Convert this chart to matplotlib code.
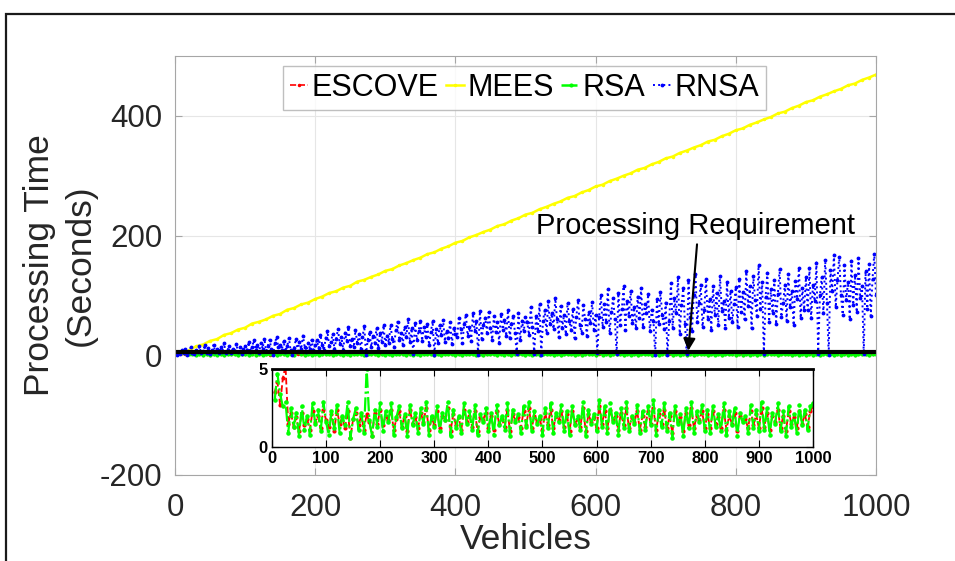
import numpy as np
import matplotlib
matplotlib.use('Agg')
import matplotlib.pyplot as plt
from matplotlib.patches import Rectangle

plt.rcParams['font.family'] = ['Liberation Sans', 'DejaVu Sans']
plt.rcParams['axes.unicode_minus'] = False

# vehicle counts: MEES every 10, RNSA every 2.5, ESCOVE/RSA every 5
veh_mees = np.arange(0, 1001, 10)
veh_rnsa = np.arange(1, 401) * 2.5
veh = np.arange(5, 1001, 5)

mees = [1, 4, 8, 15, 18, 24, 27, 34, 37, 43, 46, 53, 56, 60, 66, 69, 76, 79, 85, 88,
        94, 98, 104, 107, 113, 116, 123, 126, 131, 135, 141, 144, 150, 154, 159, 163, 169, 172, 178, 182,
        188, 191, 197, 201, 206, 210, 216, 219, 225, 229, 235, 238, 244, 248, 253, 257, 263, 266, 272, 276,
        282, 285, 291, 295, 300, 304, 310, 313, 319, 323, 329, 332, 338, 342, 347, 351, 357, 360, 366, 370,
        376, 379, 385, 389, 394, 398, 404, 407, 413, 417, 423, 426, 432, 436, 441, 445, 451, 454, 460, 464,
        469]

rnsa = [1, 5, 2, 8, 3, 11, 1, 6, 13, 4, 2, 9, 5, 15, 3, 7, 17, 4, 12, 2,
        8, 18, 5, 10, 3, 14, 6, 20, 4, 9, 16, 3, 11, 7, 19, 5, 13, 2, 10, 15,
        8, 22, 6, 14, 25, 9, 17, 4, 21, 11, 28, 7, 16, 26, 10, 1, 20, 31, 13, 18,
        9, 24, 6, 15, 29, 8, 1, 12, 27, 7, 23, 10, 33, 14, 6, 21, 11, 26, 8, 17,
        25, 12, 34, 18, 8, 29, 40, 15, 22, 36, 10, 27, 44, 19, 31, 9, 38, 24, 47, 16,
        28, 13, 42, 20, 35, 11, 30, 49, 1, 26, 39, 14, 33, 21, 45, 12, 37, 23, 50, 18,
        33, 21, 50, 28, 14, 42, 56, 25, 37, 18, 48, 30, 60, 22, 45, 2, 54, 26, 40, 58,
        24, 47, 31, 52, 17, 39, 57, 1, 44, 20, 51, 34, 59, 23, 41, 29, 55, 19, 46, 36,
        30, 62, 44, 20, 52, 68, 33, 47, 24, 70, 41, 57, 1, 74, 28, 50, 63, 38, 72, 45,
        26, 65, 39, 55, 21, 69, 43, 59, 32, 76, 29, 53, 66, 37, 2, 71, 25, 58, 40, 64,
        55, 34, 80, 48, 2, 66, 40, 85, 1, 58, 75, 37, 90, 52, 70, 44, 95, 60, 30, 82,
        46, 68, 35, 88, 57, 42, 78, 29, 64, 92, 50, 38, 84, 61, 33, 72, 54, 89, 43, 67,
        3, 64, 100, 48, 85, 55, 110, 38, 72, 95, 60, 2, 104, 50, 78, 115, 42, 90, 66, 108,
        54, 80, 45, 98, 62, 112, 47, 86, 70, 102, 40, 76, 58, 1, 94, 52, 106, 68, 44, 88,
        1, 58, 120, 45, 96, 70, 130, 36, 84, 112, 52, 2, 125, 64, 40, 100, 135, 55, 88, 118,
        48, 76, 128, 60, 94, 42, 116, 68, 104, 50, 132, 74, 90, 46, 122, 62, 108, 56, 86, 114,
        48, 128, 72, 105, 60, 140, 82, 115, 45, 132, 92, 66, 150, 78, 122, 2, 98, 138, 56, 110,
        70, 126, 52, 102, 144, 64, 88, 118, 58, 136, 80, 108, 50, 124, 94, 146, 62, 112, 76, 130,
        75, 145, 62, 118, 90, 155, 2, 100, 130, 70, 160, 88, 1, 142, 108, 168, 80, 125, 165, 100,
        68, 150, 92, 122, 60, 158, 84, 134, 72, 162, 96, 116, 2, 140, 78, 152, 66, 128, 170, 100]

rsa = [3.0, 4.7, 3.4, 2.6, 2.9, 0.9, 2.5, 1.3, 2.2, 0.7, 2.6, 1.1, 2.0, 0.8, 2.8, 1.5, 2.4, 1.0, 2.9, 1.6,
       0.8, 2.3, 1.2, 2.7, 0.9, 2.0, 1.4, 2.9, 0.6, 1.8, 2.5, 1.1, 2.2, 0.9, 5.0, 1.7, 0.7, 2.4, 1.3, 2.8,
       1.0, 2.3, 1.6, 2.8, 0.8, 1.9, 2.6, 1.2, 2.1, 0.7, 2.7, 1.4, 2.2, 0.9, 2.5, 1.5, 2.9, 0.8, 2.0, 1.3,
       2.6, 1.0, 2.2, 1.7, 2.9, 0.7, 2.4, 1.2, 2.0, 0.9, 2.8, 1.5, 2.3, 1.1, 2.7, 0.8, 2.1, 1.6, 2.5, 1.0,
       2.2, 0.8, 2.7, 1.4, 2.0, 1.1, 2.8, 0.7, 2.4, 1.6, 2.1, 0.9, 2.6, 1.3, 2.9, 1.0, 2.3, 1.5, 2.0, 0.8,
       2.5, 1.2, 2.8, 0.9, 2.2, 1.6, 2.7, 1.0, 2.3, 0.8, 2.6, 1.4, 2.0, 1.1, 2.9, 0.7, 2.4, 1.5, 2.1, 1.0,
       3.0, 1.3, 2.6, 0.9, 2.8, 1.6, 2.2, 0.8, 2.5, 1.2, 2.9, 1.0, 2.0, 1.5, 2.7, 0.9, 2.3, 1.1, 2.6, 1.4,
       3.0, 0.8, 2.4, 1.3, 2.8, 1.0, 2.2, 0.6, 2.6, 1.5, 2.1, 0.7, 2.5, 1.2, 2.9, 0.9, 2.3, 1.6, 2.7, 1.0,
       2.4, 0.9, 2.6, 1.3, 2.1, 1.0, 2.8, 0.8, 2.3, 1.4, 2.5, 0.7, 2.2, 1.6, 2.0, 0.9, 2.7, 1.2, 2.4, 1.0,
       2.9, 1.1, 2.5, 0.8, 2.2, 1.5, 2.8, 1.0, 2.3, 0.7, 2.6, 1.3, 2.1, 0.9, 2.7, 1.4, 2.4, 1.1, 2.6, 2.8]

escove = [3.5, 4.2, 2.7, 4.4, 5.2, 1.5, 2.2, 1.3, 1.9, 1.0, 2.2, 1.4, 1.8, 1.1, 2.3, 1.6, 2.0, 1.2, 2.4, 1.7,
          1.3, 2.1, 1.0, 2.4, 1.5, 1.9, 1.2, 2.3, 0.6, 1.8, 2.2, 1.4, 2.0, 1.1, 2.1, 1.6, 0.7, 2.2, 1.5, 2.4,
          1.4, 2.0, 1.7, 2.4, 1.1, 1.8, 2.3, 1.3, 2.0, 1.0, 2.4, 1.5, 1.9, 1.2, 2.2, 1.6, 2.5, 1.1, 1.9, 1.4,
          2.3, 1.2, 2.0, 1.7, 2.5, 1.0, 2.1, 1.4, 1.9, 1.1, 2.4, 1.6, 2.0, 1.3, 2.3, 1.0, 1.9, 1.7, 2.2, 1.2,
          2.0, 1.1, 2.3, 1.5, 1.8, 1.3, 2.4, 1.0, 2.1, 1.7, 1.9, 1.2, 2.3, 1.4, 2.5, 1.2, 2.0, 1.6, 1.8, 1.1,
          2.2, 1.4, 2.4, 1.2, 2.0, 1.7, 2.3, 1.3, 2.1, 1.0, 2.3, 1.5, 1.8, 1.3, 2.5, 1.0, 2.1, 1.6, 1.9, 1.2,
          2.6, 1.5, 2.3, 1.2, 2.4, 1.7, 2.0, 1.1, 2.2, 1.4, 2.5, 1.2, 1.9, 1.6, 2.3, 1.1, 2.0, 1.3, 2.3, 1.5,
          2.5, 1.1, 2.1, 1.5, 2.4, 1.2, 2.0, 0.9, 2.3, 1.6, 1.9, 1.0, 2.2, 1.4, 2.5, 1.2, 2.0, 1.7, 2.3, 1.2,
          2.1, 1.2, 2.3, 1.5, 1.9, 1.2, 2.4, 1.1, 2.0, 1.5, 2.2, 1.0, 2.0, 1.7, 1.8, 1.2, 2.3, 1.4, 2.1, 1.2,
          2.5, 1.3, 2.2, 1.1, 2.0, 1.6, 2.4, 1.2, 2.0, 1.0, 2.3, 1.5, 1.9, 1.2, 2.3, 1.5, 2.1, 1.3, 2.3, 2.6]

requirement = 5

fig = plt.figure(figsize=(9.55, 5.61), dpi=100)

# frame around the whole figure
fig.patches.append(Rectangle((6 / 955, -0.05), 1.1, 1.05 - 14 / 561,
                             transform=fig.transFigure, fill=False,
                             edgecolor='#1a1a1a', linewidth=1.6))

ax = fig.add_axes([0.1832, 0.1533, 0.7341, 0.7469])
ax.plot(veh, escove, '--', color='red', marker='.', markersize=3, linewidth=1.2, label='ESCOVE')
ax.plot(veh_mees, mees, '-', color='#ffff00', marker='.', markersize=3, linewidth=1.8, label='MEES')
ax.plot(veh, rsa, '-.', color='#00ff00', marker='.', markersize=4, linewidth=1.8, label='RSA')
ax.plot(veh_rnsa, rnsa, ':', color='blue', marker='.', markersize=3.5, linewidth=1.4, label='RNSA')
ax.plot([0, 1000], [requirement, requirement], '-', color='black', linewidth=3)

ax.set_xlim(0, 1000)
ax.set_ylim(-200, 500)
ax.set_xticks([0, 200, 400, 600, 800, 1000])
ax.set_yticks([-200, 0, 200, 400])
ax.grid(True, color='#e6e6e6', linewidth=0.8)
ax.set_axisbelow(True)
for s in ax.spines.values():
    s.set_color('#a6a6a6')
    s.set_linewidth(0.8)
ax.tick_params(direction='in', length=5, color='#a6a6a6', labelsize=22.5,
               labelcolor='#262626', right=True, top=True)
ax.tick_params(axis='x', pad=13)
ax.tick_params(axis='y', pad=9)
ax.set_xlabel('Vehicles', fontsize=25.5, color='#262626', labelpad=0)
ax.set_ylabel('Processing Time\n(Seconds)', fontsize=25.5, color='#262626', labelpad=2,
              linespacing=1.3)

ax.text(742, 216, 'Processing Requirement', fontsize=21, ha='center', va='center')
ax.annotate('', xy=(732, 3), xytext=(745, 190),
            arrowprops=dict(arrowstyle='-|>', color='black', lw=1.5, mutation_scale=18))

leg = ax.legend(loc='center', bbox_to_anchor=(524.5 / 955, 1 - 88 / 561),
                bbox_transform=fig.transFigure, ncol=4, fontsize=22, frameon=True,
                fancybox=False, edgecolor='#b0b0b0', handlelength=0.6,
                handletextpad=0.1, columnspacing=0.25, borderpad=0.22, numpoints=1,
                markerscale=1, borderaxespad=0)
leg.get_frame().set_linewidth(1.0)

# zoomed view of the two fast schemes
ins = fig.add_axes([0.2848, 0.2032, 0.5665, 0.1390])
ins.plot(veh, escove, '--', color='red', marker='.', markersize=4, linewidth=1.3)
ins.plot(veh, rsa, '-.', color='#00ff00', marker='.', markersize=4.5, linewidth=1.6)
ins.set_xlim(0, 1000)
ins.set_ylim(0, 5)
ins.set_xticks(np.arange(0, 1001, 100))
ins.set_yticks([0, 5])
ins.grid(True, axis='x', color='#dcdcdc', linewidth=0.8)
for s in ins.spines.values():
    s.set_color('black')
    s.set_linewidth(1.0)
ins.spines['top'].set_linewidth(2.0)
ins.tick_params(direction='in', length=5, labelsize=12, top=True, right=True, pad=3)
for lab in ins.get_xticklabels() + ins.get_yticklabels():
    lab.set_fontweight('bold')

fig.savefig('out.png', dpi=100)
